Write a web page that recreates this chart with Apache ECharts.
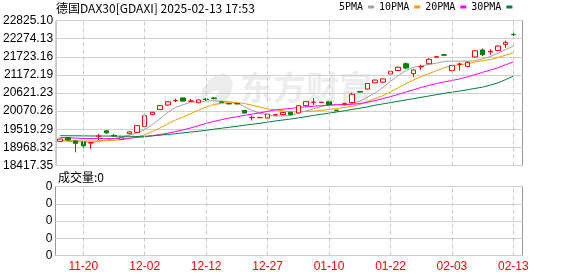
<!DOCTYPE html>
<html>
<head>
<meta charset="utf-8">
<script src="https://cdn.jsdelivr.net/npm/echarts@6/dist/echarts.min.js"></script>
<style>
html,body{margin:0;padding:0;background:#fff;}
#c{width:578px;height:276px;}
</style>
</head>
<body>
<div id="c"></div>
<script>
// ---- data ----
const dates = ['11-15','11-18','11-19','11-20','11-21','11-22','11-25','11-26','11-27','11-28',
  '11-29','12-02','12-03','12-04','12-05','12-06','12-09','12-10','12-11','12-12',
  '12-13','12-16','12-17','12-18','12-19','12-20','12-23','12-27','12-30','01-02',
  '01-03','01-06','01-07','01-08','01-09','01-10','01-13','01-14','01-15','01-16',
  '01-17','01-20','01-21','01-22','01-23','01-24','01-27','01-28','01-29','01-30',
  '01-31','02-03','02-04','02-05','02-06','02-07','02-10','02-11','02-12','02-13'];

const opens = [19150,19265,19165,19135,19100,19305,19470,19330,19210,19385,
  19425,19605,19970,20120,20255,20385,20470,20370,20325,20435,
  20470,20350,20300,20300,20090,19870,19870,19860,19955,19965,
  20035,20015,20235,20335,20330,20355,20100,20265,20330,20665,
  20740,20930,20950,21200,21305,21510,21210,21415,21510,21710,
  21785,21300,21490,21430,21715,21930,21870,21915,22100,22400];

const closes = [19220,19195,19090,19015,19112,19320,19410,19315,19260,19440,
  19630,19930,20035,20235,20355,20395,20375,20380,20410,20425,
  20455,20340,20290,20290,20010,19880,19878,19980,19965,20030,
  19965,20235,20360,20345,20340,20265,20085,20300,20585,20650,
  20910,21015,21050,21280,21405,21380,21320,21430,21645,21725,
  21770,21460,21505,21555,21905,21785,21890,22050,22160,22390];

const lows = [19140,19180,18820,18945,18920,19190,19380,19290,19195,19370,
  19410,19595,19950,20110,20240,20345,20360,20350,20315,20380,
  20420,20330,20280,20280,20000,19785,19860,19850,19935,19955,
  19950,20000,20220,20260,20320,20250,20070,20250,20310,20630,
  20730,20920,20935,21190,21290,21350,21100,21330,21500,21700,
  21740,21285,21300,21400,21700,21740,21790,21900,21990,22320];

const highs = [19235,19280,19180,19160,19120,19380,19490,19380,19275,19450,
  19640,19940,20045,20250,20370,20450,20480,20440,20420,20470,
  20500,20360,20305,20305,20100,19940,19895,19990,19985,20045,
  20050,20245,20370,20465,20355,20370,20110,20330,20630,20680,
  20925,21030,21065,21300,21420,21550,21335,21480,21680,21735,
  21810,21475,21545,21580,21920,21975,21950,22065,22215,22460];

const ma5 = [19190,19150,19140,19140,19125,19145,19190,19235,19285,19340,
  19405,19510,19660,19845,20035,20185,20265,20340,20360,20378,
  20385,20375,20355,20325,20200,20090,20000,19960,19920,19925,
  19935,20020,20075,20140,20210,20270,20270,20260,20300,20370,
  20500,20620,20790,20970,21150,21300,21400,21440,21490,21530,
  21580,21590,21590,21590,21600,21660,21730,21830,21940,22050];

const ma10 = [19190,19180,19170,19160,19160,19165,19175,19180,19200,19240,
  19290,19350,19450,19560,19690,19800,19890,19990,20100,20200,
  20270,20310,20330,20330,20300,20250,20190,20140,20110,20080,
  20050,20050,20060,20070,20090,20120,20150,20180,20220,20270,
  20360,20450,20540,20650,20780,20900,21020,21120,21210,21300,
  21390,21440,21480,21510,21560,21600,21640,21700,21770,21840];

const ma20 = [19270,19260,19250,19240,19235,19235,19235,19235,19240,19250,
  19270,19290,19320,19360,19400,19450,19500,19560,19630,19695,
  19760,19810,19860,19900,19940,19980,20020,20060,20110,20130,
  20150,20180,20200,20220,20235,20250,20260,20270,20280,20300,
  20340,20390,20450,20510,20580,20650,20720,20790,20850,20910,
  20960,21000,21050,21110,21180,21250,21320,21390,21480,21565];

const ma30 = [19325,19322,19320,19318,19315,19315,19312,19310,19308,19305,
  19300,19305,19320,19340,19360,19385,19410,19435,19460,19485,
  19520,19550,19580,19610,19640,19670,19700,19735,19770,19800,
  19830,19865,19900,19940,19975,20010,20045,20080,20120,20160,
  20200,20250,20290,20330,20370,20410,20450,20490,20530,20570,
  20610,20645,20680,20720,20760,20800,20860,20930,21030,21135];

const volumes = [0,0,0,0,0,0,0,0,0,0, 0,0,0,0,0,0,0,0,0,0,
  0,0,0,0,0,0,0,0,0,0, 0,0,0,0,0,0,0,0,0,0,
  0,0,0,0,0,0,0,0,0,0, 0,0,0,0,0,0,0,0,0,0];

const xLabelDates = ['11-20','12-02','12-12','12-27','01-10','01-22','02-03','02-13'];
const yTickLabels = ['18417.35','18968.32','19519.29','20070.26','20621.23','21172.19','21723.16','22274.13','22825.10'];
const volTickLabels = ['0','0','0','0','0'];
const yMin = 18417.35, yMax = 22825.10;
const titleText = '德国DAX30[GDAXI] 2025-02-13 17:53';
const maNames = ['5PMA','10PMA','20PMA','30PMA'];
const maColors = ['#a0a0a0','#f2a000','#ff00ff','#007f3f'];
const maData = [ma5, ma10, ma20, ma30];

// ---- chart ----
const candleData = dates.map((d, i) => [opens[i], closes[i], lows[i], highs[i]]);
const CJK = '"Noto Sans CJK SC", sans-serif';
const MONO = '"DejaVu Sans Mono", monospace';
const SANS = '"Liberation Sans", Arial, sans-serif';
function dashLine() {
  return {
    symbol: ['none', 'none'], silent: true, animation: false,
    label: { show: false },
    lineStyle: { color: '#c8c8c8', type: [4, 3], width: 1 },
    data: xLabelDates.map(d => ({ xAxis: d }))
  };
}

const chart = echarts.init(document.getElementById('c'), null, { renderer: 'canvas' });
const option = {
  animation: false,
  backgroundColor: '#fff',
  title: {
    text: titleText, left: 56, top: 2, padding: 0,
    textStyle: { fontFamily: CJK, fontSize: 12, fontWeight: 'normal', color: '#000' }
  },
  legend: {
    data: maNames, left: 339, top: 2, padding: 0, itemGap: 5, align: 'right',
    icon: 'rect', itemWidth: 6, itemHeight: 3, selectedMode: false,
    textStyle: { fontFamily: MONO, fontSize: 10, color: '#000' }
  },
  grid: [
    { left: 55.5, top: 20.5, width: 467, height: 145, show: true, borderColor: '#999', borderWidth: 1, backgroundColor: 'transparent' },
    { left: 56.4, top: 20.5, width: 460.8, height: 145 },
    { left: 55.5, top: 186.5, width: 467, height: 69, show: true, borderColor: '#999', borderWidth: 1, backgroundColor: 'transparent' },
    { left: 56.4, top: 186.5, width: 460.8, height: 69 }
  ],
  xAxis: [
    { gridIndex: 0, type: 'value', min: 0, max: 1, show: false },
    { gridIndex: 1, type: 'category', data: dates, boundaryGap: true, show: false },
    { gridIndex: 2, type: 'value', min: 0, max: 1, show: false },
    { gridIndex: 3, type: 'category', data: dates, boundaryGap: true,
      axisLine: { show: false }, axisTick: { show: false }, splitLine: { show: false },
      axisLabel: { interval: (i, v) => xLabelDates.indexOf(v) >= 0, color: '#ff0000',
        fontFamily: SANS, fontSize: 12, margin: 5 } }
  ],
  yAxis: [
    { gridIndex: 0, type: 'value', min: yMin, max: yMax, interval: (yMax - yMin) / 8,
      axisLine: { show: false }, axisTick: { show: false },
      axisLabel: { formatter: (v, i) => yTickLabels[i], margin: 3, color: '#000', fontFamily: SANS, fontSize: 12 },
      splitLine: { show: true, lineStyle: { color: '#d0d0d0', width: 1 } } },
    { gridIndex: 1, type: 'value', min: yMin, max: yMax, show: false },
    { gridIndex: 2, type: 'value', min: 0, max: 4, interval: 1,
      axisLine: { show: false }, axisTick: { show: false },
      axisLabel: { formatter: (v, i) => volTickLabels[i], margin: 3, color: '#000', fontFamily: SANS, fontSize: 12 },
      splitLine: { show: true, lineStyle: { color: '#d0d0d0', width: 1 } } },
    { gridIndex: 3, type: 'value', min: 0, max: 1, show: false }
  ],
  series: [
    { type: 'candlestick', name: 'K', xAxisIndex: 1, yAxisIndex: 1, data: candleData, barWidth: 5, z: 4,
      itemStyle: { color: '#ffffff', color0: '#008000', borderColor: '#ff0000', borderColor0: '#008000', borderWidth: 1 },
      markLine: dashLine() },
    ...maNames.map((n, k) => ({
      name: n, type: 'line', xAxisIndex: 1, yAxisIndex: 1, data: maData[k],
      symbol: 'none', showSymbol: false, color: maColors[k], z: 3,
      lineStyle: { color: maColors[k], width: 1 }
    })),
    { type: 'bar', name: 'VOL', xAxisIndex: 3, yAxisIndex: 3, data: volumes, markLine: dashLine() }
  ],
  graphic: [
    { type: 'text', left: 58, top: 171,
      style: { text: '成交量:' + volumes[volumes.length - 1], fill: '#000', fontFamily: CJK, fontSize: 12 } },
    { type: 'polygon', z: 0, silent: true,
      shape: { points: [[222,73],[210,79],[202,90],[202,102],[206,96],[214,91],[220,90],[215,97],[213,103],[214,107],[224,104],[231,94],[233,82],[229,76]] },
      style: { fill: '#ececec' } },
    { type: 'text', left: 240, top: 71, z: 0, silent: true,
      style: { text: '东方财富', fill: '#ececec', fontFamily: CJK, fontSize: 33, fontWeight: 'bold' } }
  ]
};
chart.setOption(option);
</script>
</body>
</html>
